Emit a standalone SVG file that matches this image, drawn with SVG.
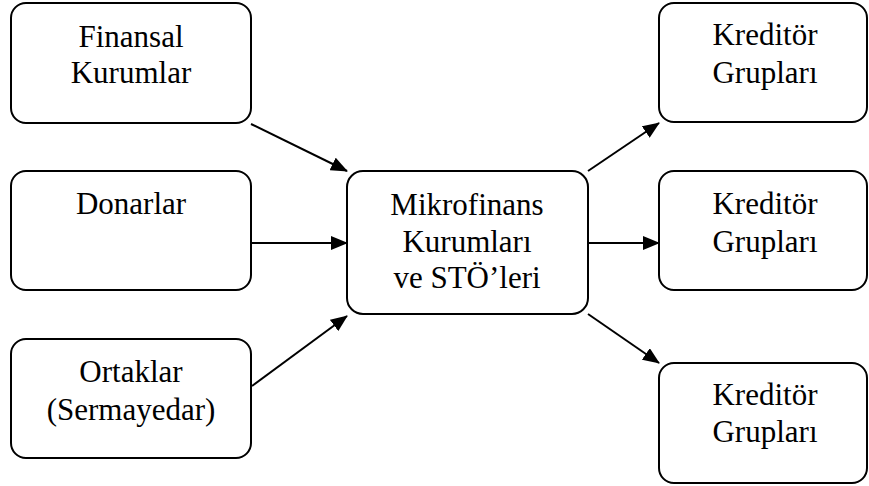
<svg xmlns="http://www.w3.org/2000/svg" width="869" height="486" viewBox="0 0 869 486">
<style>
.box{fill:#fff;stroke:#000;stroke-width:2}
.t{font-family:'Liberation Serif','Times New Roman','DejaVu Serif',serif;font-size:31px;fill:#000;text-anchor:middle}
.c{stroke:#000;stroke-width:2;fill:none}
</style>
<defs>
<marker id="ah" markerWidth="17" markerHeight="14" refX="16" refY="7" orient="auto" markerUnits="userSpaceOnUse">
<path d="M0,0 L17,7 L0,14 Z" fill="#000"/>
</marker>
</defs>
<rect width="869" height="486" fill="#fff"/>
<g id="connectors">
<line class="c" x1="251" y1="124" x2="347" y2="171" marker-end="url(#ah)"/>
<line class="c" x1="251" y1="243" x2="347" y2="243" marker-end="url(#ah)"/>
<line class="c" x1="252" y1="386" x2="347" y2="316" marker-end="url(#ah)"/>
<line class="c" x1="588" y1="171" x2="659" y2="123" marker-end="url(#ah)"/>
<line class="c" x1="588" y1="243" x2="659" y2="243" marker-end="url(#ah)"/>
<line class="c" x1="588" y1="314" x2="659" y2="363" marker-end="url(#ah)"/>
</g>
<g id="finansal">
<rect class="box" x="11" y="3" width="240" height="120" rx="15"/>
<text class="t" x="131" y="47" font-family="Liberation Serif, serif">Finansal</text>
<text class="t" x="131" y="83">Kurumlar</text>
</g>
<g id="donarlar">
<rect class="box" x="11" y="171" width="240" height="119" rx="15"/>
<text class="t" x="131" y="214">Donarlar</text>
</g>
<g id="ortaklar">
<rect class="box" x="11" y="339" width="240" height="119" rx="15"/>
<text class="t" x="131" y="382">Ortaklar</text>
<text class="t" x="131" y="420">(Sermayedar)</text>
</g>
<g id="mikrofinans">
<rect class="box" x="347" y="171" width="241" height="143" rx="16"/>
<text class="t" x="467" y="215">Mikrofinans</text>
<text class="t" x="467" y="252">Kurumları</text>
<text class="t" x="467" y="288">ve STÖ’leri</text>
</g>
<g id="kreditor1">
<rect class="box" x="659" y="3" width="208" height="119" rx="15"/>
<text class="t" x="765" y="45">Kreditör</text>
<text class="t" x="765" y="83">Grupları</text>
</g>
<g id="kreditor2">
<rect class="box" x="659" y="171" width="208" height="119" rx="15"/>
<text class="t" x="765" y="214">Kreditör</text>
<text class="t" x="765" y="252">Grupları</text>
</g>
<g id="kreditor3">
<rect class="box" x="659" y="363" width="208" height="120" rx="15"/>
<text class="t" x="765" y="405">Kreditör</text>
<text class="t" x="765" y="442">Grupları</text>
</g>
</svg>
